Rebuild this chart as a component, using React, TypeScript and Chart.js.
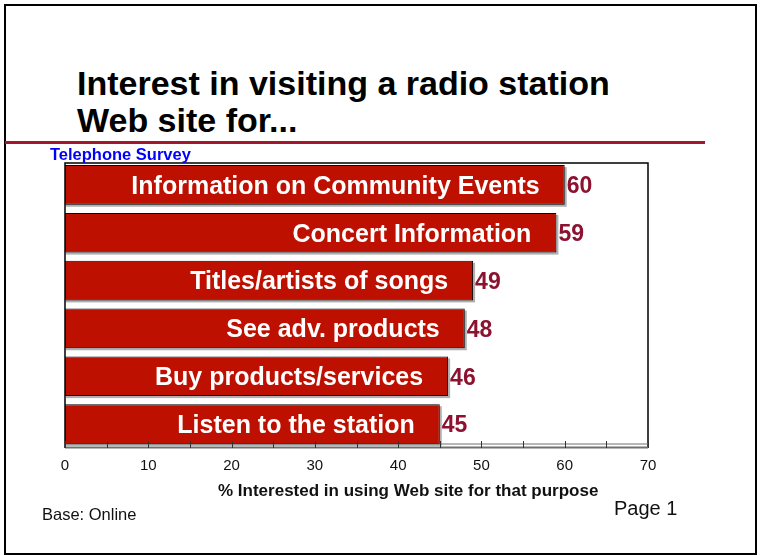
import React, { useEffect, useRef } from "react";
import { Chart, registerables } from "chart.js";

Chart.register(...registerables);

const categories = [
  "Information on Community Events",
  "Concert Information",
  "Titles/artists of songs",
  "See adv. products",
  "Buy products/services",
  "Listen to the station",
];
const values = [60, 59, 49, 48, 46, 45];
const xTicks = [0, 10, 20, 30, 40, 50, 60, 70];

const FONT = "'Liberation Sans', Arial, Helvetica, sans-serif";
const BAR_RED = "#BE1000";
const VALUE_RED = "#8C1230";

const decorPlugin = {
  id: "decor",
  beforeDatasetsDraw(chart: any) {
    const ctx = chart.ctx;
    const meta = chart.getDatasetMeta(0);
    ctx.save();
    ctx.fillStyle = "#b0b0b0";
    meta.data.forEach((bar: any) => {
      const left = bar.base;
      const top = bar.y - bar.height / 2;
      ctx.fillRect(left + 1, top + 2, bar.x - left + 1, bar.height);
    });
    ctx.restore();
  },
  afterDatasetsDraw(chart: any) {
    const ctx = chart.ctx;
    const { left, right, top, bottom } = chart.chartArea;
    const xs = chart.scales.x;
    ctx.save();
    ctx.strokeStyle = "#000";
    ctx.lineWidth = 1.5;
    ctx.beginPath();
    ctx.moveTo(left, bottom);
    ctx.lineTo(left, top + 2);
    ctx.lineTo(right, top + 2);
    ctx.lineTo(right, bottom);
    ctx.stroke();
    ctx.strokeStyle = "#707070";
    ctx.lineWidth = 1;
    ctx.beginPath();
    ctx.moveTo(left, bottom - 4);
    ctx.lineTo(right, bottom - 4);
    ctx.stroke();
    ctx.lineWidth = 2;
    ctx.beginPath();
    ctx.moveTo(left, bottom - 0.5);
    ctx.lineTo(right, bottom - 0.5);
    ctx.stroke();
    ctx.strokeStyle = "#333";
    ctx.lineWidth = 1;
    for (let v = 0; v <= 70; v += 5) {
      const px = Math.round(xs.getPixelForValue(v)) + 0.5;
      ctx.beginPath();
      ctx.moveTo(px, bottom - 7);
      ctx.lineTo(px, bottom);
      ctx.stroke();
    }
    const meta = chart.getDatasetMeta(0);
    ctx.textBaseline = "middle";
    meta.data.forEach((bar: any, i: number) => {
      ctx.font = `bold 25px ${FONT}`;
      ctx.fillStyle = "#fff";
      ctx.textAlign = "right";
      ctx.fillText(categories[i], bar.x - 25, bar.y + 2);
      ctx.font = `bold 23px ${FONT}`;
      ctx.fillStyle = VALUE_RED;
      ctx.textAlign = "left";
      ctx.fillText(String(values[i]), bar.x + 2, bar.y + 2);
    });
    ctx.restore();
  },
};

export default function App() {
  const ref = useRef<HTMLCanvasElement>(null);
  useEffect(() => {
    if (!ref.current) return;
    const chart = new Chart(ref.current, {
      type: "bar",
      data: {
        labels: categories,
        datasets: [
          {
            data: values,
            backgroundColor: BAR_RED,
            borderColor: "#000",
            borderWidth: 1,
            categoryPercentage: 1,
            barPercentage: 0.83,
          },
        ],
      },
      options: {
        indexAxis: "y",
        animation: false,
        responsive: false,
        events: [],
        layout: { padding: { left: 65, right: 113, top: 161, bottom: 71 } },
        plugins: { legend: { display: false }, tooltip: { enabled: false } },
        scales: {
          y: { display: false },
          x: {
            min: 0,
            max: 70,
            afterBuildTicks: (scale: any) => {
              scale.ticks = xTicks.map((v) => ({ value: v }));
            },
            grid: { display: false, drawTicks: false },
            border: { display: false },
            ticks: {
              color: "#111",
              font: { family: FONT, size: 15 },
              padding: 9,
            },
          },
        },
      },
      plugins: [decorPlugin],
    } as any);
    return () => chart.destroy();
  }, []);

  return (
    <div
      style={{
        position: "absolute",
        left: 0,
        top: 0,
        width: 761,
        height: 555,
        overflow: "hidden",
        background: "#fff",
        fontFamily: FONT,
      }}
    >
      <div
        style={{
          position: "absolute",
          left: 4,
          top: 4,
          width: 749,
          height: 547,
          border: "2px solid #000",
        }}
      />
      <div
        style={{
          position: "absolute",
          left: 77,
          top: 65,
          fontWeight: "bold",
          fontSize: 34,
          lineHeight: "37px",
          color: "#000",
          whiteSpace: "nowrap",
        }}
      >
        Interest in visiting a radio station
        <br />
        Web site for...
      </div>
      <div
        style={{
          position: "absolute",
          left: 5,
          top: 141,
          width: 700,
          height: 3,
          background: "#A3172B",
        }}
      />
      <canvas
        ref={ref}
        width={761}
        height={555}
        style={{ position: "absolute", left: 0, top: 0 }}
      />
      <div
        style={{
          position: "absolute",
          left: 50,
          top: 145,
          fontWeight: "bold",
          fontSize: 16.5,
          color: "#0000FF",
          whiteSpace: "nowrap",
        }}
      >
        Telephone Survey
      </div>
      <div
        style={{
          position: "absolute",
          left: 218,
          top: 481,
          fontWeight: "bold",
          fontSize: 17,
          color: "#111",
          whiteSpace: "nowrap",
        }}
      >
        % Interested in using Web site for that purpose
      </div>
      <div
        style={{
          position: "absolute",
          left: 42,
          top: 505,
          fontSize: 16.5,
          color: "#111",
          whiteSpace: "nowrap",
        }}
      >
        Base: Online
      </div>
      <div
        style={{
          position: "absolute",
          left: 614,
          top: 497,
          fontSize: 20,
          color: "#111",
          whiteSpace: "nowrap",
        }}
      >
        Page 1
      </div>
    </div>
  );
}
